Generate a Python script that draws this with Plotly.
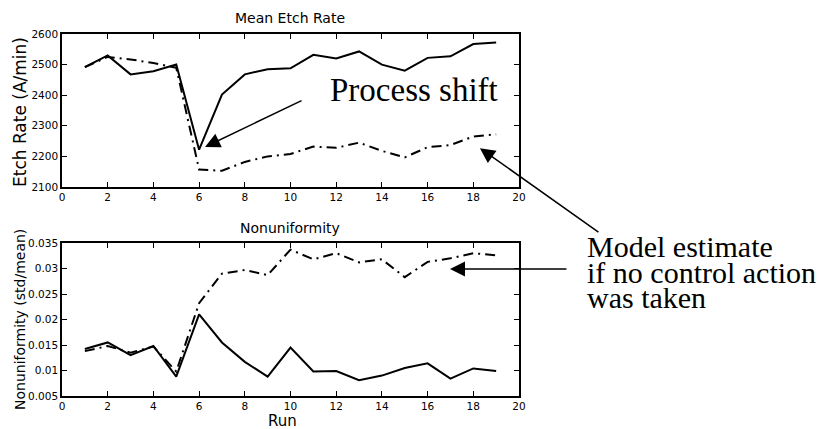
import plotly.graph_objects as go
from plotly.subplots import make_subplots

runs = list(range(1, 20))
etch_actual = [2492, 2530, 2468, 2478, 2500, 2222, 2402, 2468, 2485, 2488,
               2532, 2520, 2543, 2500, 2480, 2522, 2527, 2567, 2572]
etch_model = [2492, 2525, 2517, 2505, 2490, 2157, 2153, 2182, 2200, 2208,
              2232, 2228, 2245, 2218, 2197, 2230, 2237, 2265, 2272]
nonu_actual = [0.0142, 0.0155, 0.0130, 0.0148, 0.0088, 0.0210, 0.0155, 0.0117,
               0.0088, 0.0145, 0.0098, 0.0099, 0.0081, 0.0090, 0.0105, 0.0114,
               0.0084, 0.0104, 0.0099]
nonu_model = [0.0138, 0.0148, 0.0135, 0.0147, 0.0098, 0.0232, 0.0290, 0.0297,
              0.0287, 0.0337, 0.0318, 0.0330, 0.0312, 0.0318, 0.0283, 0.0313,
              0.0320, 0.0330, 0.0326]

W, H = 833, 429
L, R, T, B = 62, 314, 34, 33
PW, PH = W - L - R, H - T - B

def px(x):
    return (x - L) / PW

def py(y):
    return (H - B - y) / PH

fig = make_subplots(rows=2, cols=1, vertical_spacing=0.0)
fig.update_layout(
    xaxis=dict(domain=[0, 1]), yaxis=dict(domain=[py(187), 1]),
    xaxis2=dict(domain=[0, 1]), yaxis2=dict(domain=[0, py(243)]),
)

dashdot = "10px,5px,2px,5px"
fig.add_trace(go.Scatter(x=runs, y=etch_actual, mode="lines",
                         line=dict(color="black", width=2)), row=1, col=1)
fig.add_trace(go.Scatter(x=runs, y=etch_model, mode="lines",
                         line=dict(color="black", width=2, dash=dashdot)), row=1, col=1)
fig.add_trace(go.Scatter(x=runs, y=nonu_actual, mode="lines",
                         line=dict(color="black", width=2)), row=2, col=1)
fig.add_trace(go.Scatter(x=runs, y=nonu_model, mode="lines",
                         line=dict(color="black", width=2, dash=dashdot)), row=2, col=1)

axis_common = dict(showline=True, linecolor="black", linewidth=1.5, mirror="ticks",
                   ticks="inside", ticklen=5, tickwidth=1.2, tickcolor="black",
                   showgrid=False, zeroline=False,
                   tickfont=dict(family="DejaVu Sans", size=10.5, color="black"))
fig.update_xaxes(range=[0, 20], dtick=2, tick0=0, **axis_common)
fig.update_yaxes(range=[2100, 2600], dtick=100, tick0=2100, row=1, col=1, **axis_common)
fig.update_yaxes(range=[0.005, 0.035], dtick=0.005, tick0=0.005, row=2, col=1, **axis_common)

sans = dict(family="DejaVu Sans", color="black")
serif = dict(family="Liberation Serif, Times New Roman, serif", color="black")
ctr = dict(xref="paper", yref="paper", showarrow=False, xanchor="center", yanchor="middle")
ann = []
ann.append(dict(text="Mean Etch Rate", x=px(290), y=py(18), font=dict(size=14, **sans), **ctr))
ann.append(dict(text="Nonuniformity", x=px(290), y=py(228), font=dict(size=14, **sans), **ctr))
ann.append(dict(text="Run", x=px(282), y=py(421), font=dict(size=15, **sans), **ctr))
ann.append(dict(text="Etch Rate (A/min)", x=px(20), y=py(112), textangle=-90,
                font=dict(size=17, **sans), **ctr))
ann.append(dict(text="Nonuniformity (std/mean)", x=px(20), y=py(320), textangle=-90,
                font=dict(size=14, **sans), **ctr))
ann.append(dict(text="Process shift", x=px(414), y=py(90), font=dict(size=33, **serif), **ctr))
for txt, yy in [("Model estimate", 246), ("if no control action", 272), ("was taken", 297)]:
    ann.append(dict(text=txt, xref="paper", yref="paper", x=px(585), y=py(yy),
                    xanchor="left", yanchor="middle", showarrow=False,
                    font=dict(size=30, **serif)))
arrow = dict(text="", showarrow=True, arrowhead=2, arrowsize=2, arrowwidth=1.5,
             arrowcolor="black", axref="pixel", ayref="pixel")
ann.append(dict(xref="x", yref="y", x=6.26, y=2231, ax=98, ay=-47, **arrow))
ann.append(dict(xref="x", yref="y", x=18.29, y=2227, ax=120, ay=85, **arrow))
ann.append(dict(xref="x2", yref="y2", x=16.98, y=0.0299, ax=118, ay=0, **arrow))

fig.update_layout(
    width=W, height=H, margin=dict(l=L, r=R, t=T, b=B, pad=0),
    paper_bgcolor="white", plot_bgcolor="white", showlegend=False,
    annotations=ann,
)
fig.write_html("out.html")
